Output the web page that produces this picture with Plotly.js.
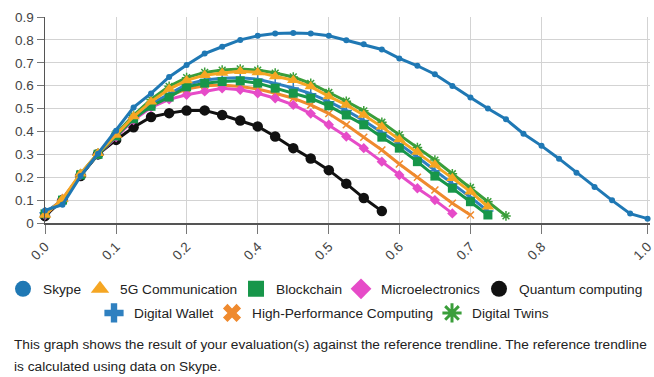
<!DOCTYPE html>
<html>
<head>
<meta charset="utf-8">
<script src="https://cdn.plot.ly/plotly-3.0.1.min.js"></script>
<style>
  html, body { margin: 0; padding: 0; background: #fff; }
  #chart { width: 654px; height: 377px; }
</style>
</head>
<body>
<div id="chart"></div>
<script>
// ---- data ----
const xGrid = [0, 0.029, 0.059, 0.088, 0.118, 0.147, 0.176, 0.206, 0.235, 0.265, 0.294,
  0.324, 0.353, 0.382, 0.412, 0.441, 0.471, 0.5, 0.529, 0.559, 0.588, 0.618, 0.647,
  0.676, 0.706, 0.735, 0.765, 0.794, 0.824, 0.853, 0.882, 0.912, 0.941, 0.971, 1.0];

const skype = [0.055, 0.08, 0.205, 0.303, 0.403, 0.505, 0.566, 0.638, 0.69, 0.74, 0.77,
  0.80, 0.818, 0.828, 0.83, 0.828, 0.818, 0.798, 0.781, 0.758, 0.719, 0.687, 0.65,
  0.598, 0.548, 0.50, 0.453, 0.39, 0.337, 0.281, 0.22, 0.157, 0.099, 0.041, 0.019];

const g5 = [0.035, 0.105, 0.215, 0.305, 0.385, 0.465, 0.53, 0.585, 0.623, 0.646, 0.655,
  0.663, 0.658, 0.64, 0.624, 0.596, 0.553, 0.516, 0.472, 0.42, 0.365, 0.31, 0.255,
  0.196, 0.137, 0.071];

const blockchain = [0.04, 0.1, 0.21, 0.30, 0.38, 0.455, 0.51, 0.55, 0.595, 0.611, 0.618,
  0.621, 0.611, 0.589, 0.567, 0.545, 0.512, 0.472, 0.429, 0.375, 0.327, 0.268, 0.205,
  0.152, 0.093, 0.035];

const micro = [0.035, 0.105, 0.21, 0.30, 0.375, 0.45, 0.505, 0.54, 0.56, 0.575, 0.589,
  0.582, 0.567, 0.545, 0.516, 0.478, 0.429, 0.378, 0.327, 0.268, 0.21, 0.152, 0.10, 0.042];

const quantum = [0.03, 0.10, 0.205, 0.30, 0.363, 0.418, 0.463, 0.48, 0.491, 0.492, 0.472,
  0.448, 0.422, 0.378, 0.327, 0.282, 0.231, 0.172, 0.109, 0.052];

const wallet = [0.045, 0.1, 0.21, 0.3, 0.385, 0.46, 0.52, 0.565, 0.605, 0.625, 0.632,
  0.635, 0.628, 0.61, 0.59, 0.565, 0.53, 0.492, 0.448, 0.395, 0.345, 0.288, 0.228,
  0.172, 0.113, 0.052];

const hpc = [0.04, 0.1, 0.21, 0.3, 0.38, 0.455, 0.515, 0.555, 0.585, 0.6, 0.603, 0.596,
  0.585, 0.567, 0.545, 0.516, 0.478, 0.429, 0.375, 0.319, 0.258, 0.2, 0.144, 0.086, 0.035];

const twins = [0.04, 0.1, 0.215, 0.305, 0.39, 0.47, 0.54, 0.597, 0.635, 0.658, 0.668,
  0.673, 0.668, 0.655, 0.638, 0.61, 0.57, 0.532, 0.49, 0.44, 0.385, 0.33, 0.275, 0.215,
  0.155, 0.093, 0.031];

const xTickVals = [0, 0.118, 0.235, 0.353, 0.471, 0.588, 0.706, 0.824, 1.0];
const xTickText = ["0.0", "0.1", "0.2", "0.4", "0.5", "0.6", "0.7", "0.8", "1.0"];
const yTickVals = [0, 0.1, 0.2, 0.3, 0.4, 0.5, 0.6, 0.7, 0.8, 0.9];
const yTickText = ["0", "0.1", "0.2", "0.3", "0.4", "0.5", "0.6", "0.7", "0.8", "0.9"];

const names = ["Skype", "5G Communication", "Blockchain", "Microelectronics",
  "Quantum computing", "Digital Wallet", "High-Performance Computing", "Digital Twins"];

const caption1 = "This graph shows the result of your evaluation(s) against the reference trendline. The reference trendline";
const caption2 = "is calculated using data on Skype.";

// ---- styles ----
const FONT = "Liberation Sans, Arial, sans-serif";
const FS = 13.7;
const series = [
  {name: names[0], y: skype, color: "#1f78b4", sym: "circle", size: 6, lsym: "circle", row: 1},
  {name: names[1], y: g5, color: "#f5a623", sym: "triangle-up", size: 11, lsym: "triangle-up", row: 1},
  {name: names[2], y: blockchain, color: "#17964a", sym: "square", size: 9, lsym: "square", row: 1},
  {name: names[3], y: micro, color: "#e64bc8", sym: "diamond", size: 8, lsym: "diamond", row: 1},
  {name: names[4], y: quantum, color: "#111111", sym: "circle", size: 10.5, lsym: "circle", row: 1},
  {name: names[5], y: wallet, color: "#2f80c0", sym: "cross-thin-open", size: 8, lsym: "cross", row: 2},
  {name: names[6], y: hpc, color: "#ef8a2e", sym: "x-thin-open", size: 7, lsym: "x", row: 2},
  {name: names[7], y: twins, color: "#3a9e3a", sym: "asterisk-open", size: 8, lsym: "asterisk-open", row: 2}
];
const lastInRow = {4: true, 7: true};

const ctx = document.createElement("canvas").getContext("2d");
ctx.font = FS + "px 'Liberation Sans'";

const traces = [];
// draw order: last legend item first, Skype on top
for (let k = series.length - 1; k >= 0; k--) {
  const s = series[k];
  const thin = s.sym.indexOf("open") >= 0;
  traces.push({
    type: "scatter", mode: "lines+markers", name: s.name, showlegend: false,
    x: xGrid.slice(0, s.y.length), y: s.y, cliponaxis: false,
    line: {color: s.color, width: 3},
    marker: {symbol: s.sym, size: s.size, color: s.color,
      line: {color: s.color, width: thin ? 1.5 : 0}}
  });
}
// legend-only entries
series.forEach(function (s, k) {
  const open = s.lsym.indexOf("open") >= 0;
  const tw = Math.round(ctx.measureText(s.name).width);
  const t = {
    type: "scatter", mode: "markers", name: s.name, x: [null], y: [null],
    legend: s.row === 1 ? "legend" : "legend2", legendrank: k + 1,
    marker: {symbol: s.lsym, size: 16, color: s.color,
      line: {color: s.color, width: open ? 3 : 0}}
  };
  if (!lastInRow[k]) t.legendwidth = Math.max(1, tw - 6);
  traces.push(t);
});

const layout = {
  width: 654, height: 377,
  margin: {l: 45, r: 4, t: 17, b: 154, autoexpand: false},
  paper_bgcolor: "#ffffff", plot_bgcolor: "#ffffff",
  font: {family: FONT, size: FS, color: "#333"},
  xaxis: {
    range: [0, 1.004], tickvals: xTickVals, ticktext: xTickText, tickangle: -45,
    ticklabeloverflow: "allow",
    showgrid: true, gridcolor: "#d3d3d3", gridwidth: 1,
    showline: true, linecolor: "#555", linewidth: 1.5, zeroline: false,
    ticks: "outside", ticklen: 9, tickcolor: "#777",
    tickfont: {family: FONT, size: 13.5, color: "#444"}
  },
  yaxis: {
    range: [0, 0.9], tickvals: yTickVals, ticktext: yTickText,
    showgrid: true, gridcolor: "#d3d3d3", gridwidth: 1,
    showline: true, linecolor: "#555", linewidth: 1.5, zeroline: false,
    ticks: "outside", ticklen: 7, tickcolor: "#777",
    tickfont: {family: FONT, size: 13.5, color: "#444"}
  },
  legend: {
    orientation: "h", x: -0.0694, xanchor: "left", y: -0.32, yanchor: "middle",
    font: {family: FONT, size: FS, color: "#222"}, bgcolor: "rgba(0,0,0,0)",
    itemsizing: "trace", traceorder: "normal"
  },
  legend2: {
    orientation: "h", x: 0.081, xanchor: "left", y: -0.437, yanchor: "middle",
    font: {family: FONT, size: FS, color: "#222"}, bgcolor: "rgba(0,0,0,0)",
    itemsizing: "trace", traceorder: "normal"
  },
  annotations: [
    {text: caption1, xref: "paper", yref: "paper", x: -0.055, y: -0.592,
      xanchor: "left", yanchor: "middle", showarrow: false,
      font: {family: FONT, size: FS, color: "#222"}},
    {text: caption2, xref: "paper", yref: "paper", x: -0.055, y: -0.699,
      xanchor: "left", yanchor: "middle", showarrow: false,
      font: {family: FONT, size: FS, color: "#222"}}
  ]
};

Plotly.newPlot("chart", traces, layout, {displayModeBar: false, staticPlot: true});
</script>
</body>
</html>
